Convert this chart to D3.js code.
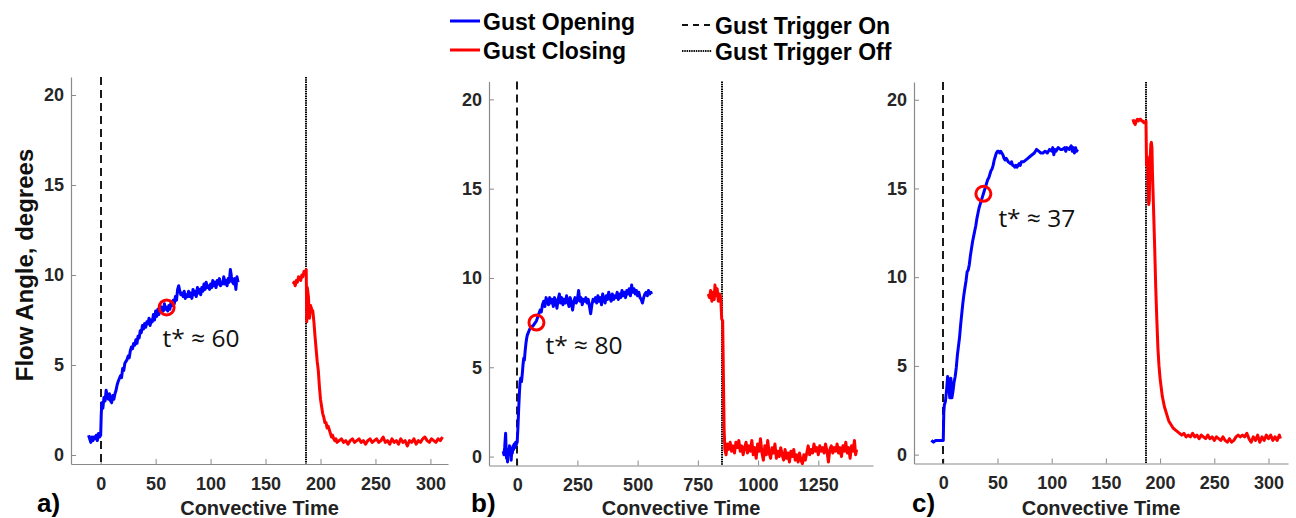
<!DOCTYPE html>
<html>
<head>
<meta charset="utf-8">
<script src="https://cdn.jsdelivr.net/npm/d3@7"></script>
<style>
  html, body { margin: 0; padding: 0; background: #fff; }
  svg { display: block; }
</style>
</head>
<body>
<svg id="chart" width="1296" height="518"></svg>
<script>
// ---- Data: flow angle (degrees) vs convective time ----
const panelLetters = ["a)", "b)", "c)"];
const xTicksA = [0, 50, 100, 150, 200, 250, 300];
const xTicksB = [0, 250, 500, 750, 1000, 1250];
const xTicksC = [0, 50, 100, 150, 200, 250, 300];
const yTicks = [0, 5, 10, 15, 20];

const triggerOn = [0, 0, 0];
const triggerOff = [187, 849, 187];
const tStar = [60, 80, 37];
const tStarValue = [8.2, 7.5, 14.7];
const tStarLabels = ["t* \u2248 60", "t* \u2248 80", "t* \u2248 37"];

const openingA = [
  [-11,1.1],[-10,0.9],[-9,0.7],[-8,1.0],[-7,0.8],[-6,1.0],[-5,0.9],[-4,1.1],[-3,0.8],[-2,1.2],[-1,1.0],[0,1.1],
  [0.5,2.2],[1,2.9],[2,2.6],[3,3.2],[4,3.0],[5,3.6],[6,3.2],[7,3.1],[8,3.4],[9,3.0],[10,2.9],[11,3.3],[12,3.1],
  [13,3.4],[14,3.6],[15,3.9],[16,4.1],[18,4.4],[19,4.3],[20,4.8],[21,4.7],[22,5.1],[24,5.3],[25,5.5],[26,5.4],
  [27,5.8],[28,6.0],[29,5.9],[30,6.2],[31,6.1],[32,6.4],[33,6.2],[34,6.6],[35,6.5],[36,6.9],[37,6.8],[38,7.2],
  [39,7.0],[40,7.3],[41,7.1],[42,7.4],[43,7.3],[44,7.6],[45,7.2],[46,7.5],[47,7.4],[48,7.8],[49,7.5],[50,8.0],
  [51,7.7],[52,8.1],[53,7.8],[54,8.3],[55,8.0],[56,8.2],[57,8.0],[58,8.4],[59,8.1],[60,8.2],[61,8.0],[62,8.3],
  [63,8.1],[64,8.5],[65,8.3],[66,8.6],[67,8.4],[68,8.8],[69,8.6],[70,9.2],[71,9.4],[72,9.1],[73,8.9],[74,9.0],
  [75,8.8],[76,9.1],[77,8.7],[78,8.9],[79,8.8],[80,9.1],[81,8.8],[82,9.0],[83,8.7],[84,9.2],[85,8.9],[86,9.1],
  [87,8.8],[88,9.3],[89,9.0],[90,9.2],[91,8.9],[92,9.3],[93,9.1],[94,9.5],[95,9.2],[96,9.6],[97,9.3],[98,9.4],
  [99,9.2],[100,9.5],[101,9.3],[102,9.7],[103,9.4],[104,9.6],[105,9.3],[106,9.7],[107,9.5],[108,9.8],[109,9.4],
  [110,9.6],[111,9.5],[112,9.9],[113,9.5],[114,9.7],[115,9.4],[116,9.8],[117,9.6],[118,10.3],[119,9.9],[120,9.6],
  [121,9.5],[122,9.8],[123,9.2],[124,9.9],[125,9.6]
];
const closingA = [
  [175,9.5],[176,9.6],[177,9.4],[178,9.7],[179,9.6],[180,9.9],[181,9.8],[182,9.7],[183,10.0],[184,9.9],[185,10.2],
  [186,10.1],[187,10.3],[187.5,7.4],[188,9.3],[189,8.8],[190,7.6],[191,8.3],[192,8.1],[193,8.0],[194,7.4],[195,6.6],
  [196,5.9],[197,5.2],[198,4.7],[199,3.8],[200,3.1],[201,2.7],[202,2.3],[203,2.1],[204,1.8],[205,1.8],[206,1.5],
  [207,1.6],[208,1.4],[209,1.2],[210,1.0],[211,1.1],[212,0.9],[213,0.8],[214,0.9],[215,0.7],[217,0.8],[219,0.9],
  [221,0.7],[223,0.8],[225,0.6],[227,0.8],[229,0.9],[231,0.7],[233,0.8],[235,0.9],[237,0.7],[239,0.8],[241,0.6],
  [243,0.8],[245,0.9],[247,0.7],[249,0.8],[251,0.9],[253,0.7],[255,0.8],[257,1.0],[259,0.7],[261,0.8],[263,0.6],
  [265,0.9],[267,0.7],[269,0.8],[271,0.6],[273,0.9],[275,0.7],[277,0.8],[279,0.5],[281,0.8],[283,0.7],[285,0.9],
  [287,0.6],[289,0.8],[291,0.7],[293,0.9],[295,1.0],[297,0.8],[299,0.7],[301,0.9],[303,0.8],[305,0.7],[307,0.9],
  [309,0.8],[311,1.0]
];
const openingB = [
  [-58,0.3],[-55,0.1],[-52,0.5],[-50,0.9],[-48,1.3],[-46,0.4],[-44,-0.1],[-42,0.3],[-40,-0.3],[-38,0.4],[-35,0.1],
  [-32,0.6],[-30,0.2],[-28,0.5],[-25,-0.2],[-22,0.4],[-20,0.2],[-17,0.6],[-15,0.4],[-12,0.7],[-9,0.5],[-6,0.8],
  [-3,0.7],[0,0.8],[3,1.6],[6,2.6],[9,3.5],[12,4.2],[15,4.4],[18,4.2],[21,4.6],[24,5.1],[27,5.5],[30,5.4],[33,5.9],
  [36,6.3],[39,6.6],[42,6.8],[45,6.9],[48,7.0],[51,7.1],[55,7.2],[60,7.3],[65,7.3],[70,7.4],[75,7.5],[80,7.6],
  [85,7.8],[90,8.0],[95,8.2],[100,8.1],[105,8.5],[110,8.7],[115,8.4],[120,8.9],[125,8.7],[130,8.5],[135,8.9],
  [140,8.6],[145,8.8],[150,8.4],[155,8.9],[160,8.7],[165,8.3],[170,8.8],[175,9.1],[180,8.6],[185,8.9],[190,8.5],
  [195,8.8],[200,8.6],[205,9.0],[210,8.7],[215,8.4],[220,8.9],[225,8.6],[230,8.2],[235,8.7],[240,8.9],[245,8.6],
  [250,8.8],[255,9.3],[260,8.7],[265,8.9],[270,8.5],[275,8.8],[280,8.7],[285,8.9],[290,8.6],[295,8.8],[300,8.4],
  [305,8.0],[310,8.5],[315,8.8],[320,8.7],[325,8.9],[330,8.6],[335,9.0],[340,8.7],[345,8.9],[350,8.5],[355,9.1],
  [360,8.8],[365,8.6],[370,9.0],[375,8.8],[380,9.2],[385,8.9],[390,8.7],[395,9.1],[400,8.8],[405,9.0],[410,8.9],
  [415,9.2],[420,8.8],[425,9.1],[430,8.9],[435,9.3],[440,9.0],[445,9.2],[450,8.9],[455,9.3],[460,9.1],[465,9.4],
  [470,9.0],[475,9.6],[480,9.2],[485,9.4],[490,9.1],[495,9.3],[500,9.0],[505,9.2],[510,8.9],[515,8.8],[520,8.6],
  [525,8.9],[530,9.1],[535,9.2],[540,9.0],[545,9.3],[550,9.1],[555,9.2],[558,9.1]
];
const closingB = [
  [793,9.1],[798,8.9],[803,9.3],[808,8.7],[813,9.2],[818,8.8],[821,9.6],[826,9.0],[830,9.4],[835,8.7],[840,9.1],
  [845,8.9],[849,7.7],[853,7.6],[856,4.5],[859,1.5],[862,0.4],[867,0.1],[872,0.7],[878,0.4],[884,0.8],[890,0.3],
  [896,0.6],[902,0.2],[908,0.8],[914,0.5],[920,0.9],[926,0.3],[932,0.6],[938,0.1],[944,0.5],[950,0.8],[956,0.2],
  [962,0.6],[968,0.3],[974,0.9],[980,0.1],[986,0.5],[992,-0.1],[998,0.7],[1004,0.3],[1010,1.0],[1016,0.2],
  [1022,-0.2],[1028,0.6],[1034,0.1],[1040,0.9],[1046,0.2],[1052,-0.1],[1058,0.5],[1064,0.2],[1070,0.7],[1076,-0.1],
  [1082,0.3],[1088,0.0],[1094,0.5],[1100,0.1],[1106,-0.2],[1112,0.4],[1118,-0.1],[1124,0.2],[1130,-0.3],[1136,0.3],
  [1142,0.0],[1148,0.4],[1154,-0.2],[1160,0.1],[1166,-0.3],[1172,0.2],[1178,-0.2],[1184,-0.4],[1190,0.1],[1196,-0.2],
  [1202,0.2],[1208,0.6],[1214,0.1],[1220,0.4],[1226,0.2],[1232,0.7],[1238,0.3],[1244,0.5],[1250,0.1],[1256,0.6],
  [1262,0.3],[1268,0.5],[1274,0.2],[1280,0.7],[1286,0.3],[1292,-0.3],[1298,0.4],[1304,0.6],[1310,0.2],[1316,0.5],
  [1322,0.3],[1328,0.7],[1334,0.2],[1340,0.5],[1346,0.0],[1352,0.6],[1358,0.3],[1364,0.8],[1370,0.2],[1376,0.5],
  [1382,-0.1],[1388,0.6],[1394,0.3],[1400,0.9],[1405,0.1],[1409,0.4]
];
const openingC = [
  [-11,0.8],[-9,0.7],[-7,0.8],[-5,0.8],[-3,0.8],[-1,0.8],[0,0.8],[0.5,2.4],[1,2.8],[2,3.0],[3,3.6],[4,4.4],[5,4.1],
  [6,3.2],[7,4.3],[8,3.2],[9,3.6],[10,4.1],[11,4.4],[12,4.9],[13,5.6],[14,6.1],[15,6.6],[16,7.3],[17,7.9],[18,8.5],
  [19,9.0],[20,9.4],[21,9.8],[22,10.3],[23,10.4],[24,10.7],[25,11.2],[26,11.6],[27,12.0],[28,12.3],[29,12.6],
  [30,12.9],[31,13.3],[32,13.6],[33,13.9],[34,14.1],[35,14.3],[36,14.5],[37,14.7],[38,14.9],[39,15.1],[40,15.3],
  [41,15.5],[42,15.6],[43,15.8],[44,16.0],[45,16.1],[46,16.3],[47,16.6],[48,16.8],[49,17.0],[50,17.1],[51,17.1],
  [52,17.0],[53,17.1],[54,17.0],[55,16.9],[56,16.7],[57,16.6],[58,16.7],[59,16.6],[60,16.5],[62,16.4],[63,16.5],
  [64,16.3],[65,16.3],[66,16.2],[67,16.3],[68,16.2],[69,16.3],[70,16.4],[71,16.3],[72,16.5],[74,16.5],[76,16.6],
  [78,16.7],[80,16.8],[82,16.9],[84,17.0],[86,17.2],[88,17.1],[90,17.0],[92,17.0],[94,17.1],[96,17.0],[98,17.2],
  [100,17.1],[101,17.3],[102,16.9],[103,17.2],[104,17.1],[106,17.3],[108,17.2],[110,17.2],[112,17.3],[113,17.1],
  [114,17.3],[116,17.2],[118,17.4],[119,17.1],[120,17.3],[121,17.0],[122,17.3],[123,17.1],[124,17.2]
];
const closingC = [
  [175,18.9],[176,18.7],[177,18.6],[178,18.8],[179,18.9],[180,18.8],[181,18.9],[182,18.9],[183,18.8],[184,18.8],
  [185,18.7],[186,18.7],[187,18.8],[187.5,16.3],[188,16.8],[188.5,16.4],[189,15.2],[189.5,14.1],[190,14.3],
  [190.5,15.8],[191,16.9],[191.5,17.5],[192,17.6],[192.5,17.3],[193,15.8],[194,13.8],[195,11.7],[196,9.4],[197,7.6],
  [198,6.0],[199,5.0],[200,4.3],[201,3.8],[202,3.3],[203,3.0],[204,2.7],[205,2.5],[206,2.3],[207,2.1],[208,1.9],
  [209,1.8],[210,1.7],[212,1.5],[214,1.4],[216,1.3],[218,1.2],[220,1.1],[222,1.2],[224,1.0],[226,1.1],[228,1.0],
  [230,1.2],[232,1.0],[234,1.1],[236,0.9],[238,1.1],[240,1.0],[242,0.9],[244,1.1],[246,0.9],[248,1.0],[250,0.8],
  [252,1.0],[254,0.9],[256,0.8],[258,1.0],[260,0.8],[262,0.7],[264,0.9],[266,0.7],[268,0.8],[270,1.0],[272,1.1],
  [274,1.0],[276,1.1],[278,1.0],[280,1.2],[282,0.9],[284,0.7],[286,1.0],[288,0.8],[290,1.1],[292,0.7],[294,1.0],
  [296,0.8],[298,1.1],[300,0.9],[302,1.1],[304,0.8],[306,1.0],[308,0.8],[310,1.1],[311,0.9]
];

// ---- Layout ----
const FONT = "'Liberation Sans', Arial, sans-serif";
const BLUE = "#0000ff", RED = "#ff0000";
const yDomain = [-0.5, 21];

const panels = [
  { left: 71,  right: 448,  top: 77,   bottom: 464,   xDomain: [-27, 316],   xTicks: xTicksA,
    opening: openingA, closing: closingA, letterX: 37,  labelDx: -4, labelDy: 40 },
  { left: 489, right: 873,  top: 81.5, bottom: 465.5, xDomain: [-117, 1477], xTicks: xTicksB,
    opening: openingB, closing: closingB, letterX: 471, labelDx: 9,  labelDy: 31 },
  { left: 914, right: 1288, top: 82,   bottom: 463.5, xDomain: [-27, 318],   xTicks: xTicksC,
    opening: openingC, closing: closingC, letterX: 912, labelDx: 15, labelDy: 33 }
];

const svg = d3.select("#chart");

panels.forEach((p, i) => {
  const x = d3.scaleLinear().domain(p.xDomain).range([p.left, p.right]);
  const y = d3.scaleLinear().domain(yDomain).range([p.bottom, p.top]);
  const g = svg.append("g");

  // axes (ticks pointing inward)
  const xAxis = g.append("g")
    .attr("transform", `translate(0,${p.bottom})`)
    .call(d3.axisBottom(x).tickValues(p.xTicks).tickFormat(d3.format("d"))
      .tickSizeInner(-5).tickSizeOuter(0).tickPadding(13));
  const yAxis = g.append("g")
    .attr("transform", `translate(${p.left},0)`)
    .call(d3.axisLeft(y).tickValues(yTicks).tickSizeInner(-5).tickSizeOuter(0).tickPadding(7));
  [xAxis, yAxis].forEach(a => {
    a.select(".domain").attr("stroke", "#8a8a8a").attr("stroke-width", 1.2);
    a.selectAll(".tick line").attr("stroke", "#8a8a8a").attr("stroke-width", 1);
    a.selectAll(".tick text")
      .attr("fill", "#262626")
      .style("font-family", FONT)
      .style("font-weight", "bold")
      .style("font-size", "18px");
  });

  // trigger markers (snapped to whole pixels so the fine pattern stays dark)
  const xOn = Math.round(x(triggerOn[i]));
  const xOff = Math.round(x(triggerOff[i]));
  g.append("line")
    .attr("x1", xOn).attr("x2", xOn)
    .attr("y1", p.top).attr("y2", p.bottom)
    .attr("stroke", "#1a1a1a").attr("stroke-width", 2).attr("stroke-dasharray", "8,5");
  g.append("line")
    .attr("x1", xOff).attr("x2", xOff)
    .attr("y1", p.top).attr("y2", p.bottom)
    .attr("stroke", "#000").attr("stroke-width", 2).attr("stroke-dasharray", "1.5,0.8");

  // flow angle curves
  const line = d3.line().x(d => x(d[0])).y(d => y(d[1]));
  g.append("path").datum(p.opening).attr("d", line)
    .attr("fill", "none").attr("stroke", BLUE).attr("stroke-width", 3).attr("stroke-linejoin", "round");
  g.append("path").datum(p.closing).attr("d", line)
    .attr("fill", "none").attr("stroke", RED).attr("stroke-width", 3).attr("stroke-linejoin", "round");

  // t* marker and annotation
  const cx = x(tStar[i]), cy = y(tStarValue[i]);
  g.append("circle").attr("cx", cx).attr("cy", cy).attr("r", 7.5)
    .attr("fill", "none").attr("stroke", RED).attr("stroke-width", 3);
  g.append("text").attr("x", cx + p.labelDx).attr("y", cy + p.labelDy)
    .style("font-family", "'Open Sans', sans-serif").style("font-size", "24.5px").attr("fill", "#111")
    .text(tStarLabels[i]);

  // axis title and panel letter
  g.append("text")
    .attr("x", (p.left + p.right) / 2).attr("y", 515)
    .attr("text-anchor", "middle")
    .style("font-family", FONT).style("font-weight", "bold").style("font-size", "20px").attr("fill", "#222")
    .text("Convective Time");
  g.append("text")
    .attr("x", p.letterX).attr("y", 512)
    .style("font-family", FONT).style("font-weight", "bold").style("font-size", "26px").attr("fill", "#000")
    .text(panelLetters[i]);
});

// y-axis title
svg.append("text")
  .attr("transform", "translate(33,265) rotate(-90)")
  .attr("text-anchor", "middle")
  .style("font-family", FONT).style("font-weight", "bold").style("font-size", "24px").attr("fill", "#111")
  .text("Flow Angle, degrees");

// ---- Legend ----
const legendItems = [
  { label: "Gust Opening",      x: 450, y: 21, color: BLUE,   width: 3,   dash: null },
  { label: "Gust Closing",      x: 450, y: 50, color: RED,    width: 3,   dash: null },
  { label: "Gust Trigger On",   x: 682, y: 25, color: "#111", width: 2,   dash: "6,5" },
  { label: "Gust Trigger Off",  x: 682, y: 51, color: "#111", width: 2,   dash: "1.5,0.8" }
];
const legend = svg.append("g");
legendItems.forEach(it => {
  const l = legend.append("line")
    .attr("x1", it.x).attr("x2", it.x + 30).attr("y1", it.y).attr("y2", it.y)
    .attr("stroke", it.color).attr("stroke-width", it.width);
  if (it.dash) l.attr("stroke-dasharray", it.dash);
  legend.append("text")
    .attr("x", it.x + 33).attr("y", it.y + 8.5)
    .style("font-family", FONT).style("font-weight", "bold").style("font-size", "23px").attr("fill", "#000")
    .text(it.label);
});
</script>
</body>
</html>
